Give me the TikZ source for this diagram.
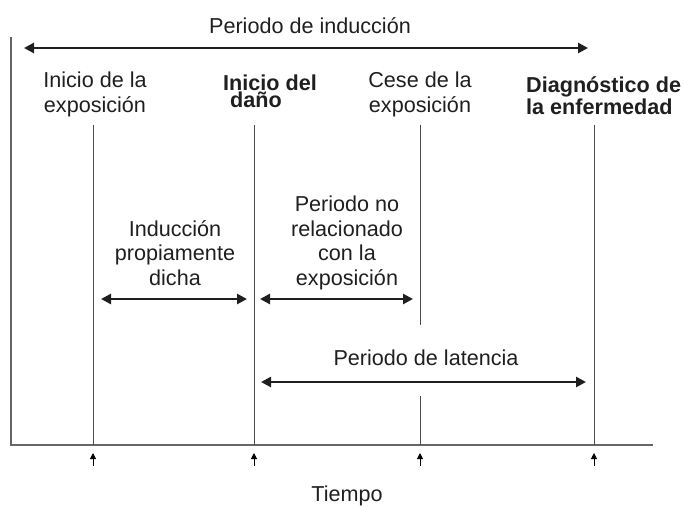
\documentclass[tikz,border=0pt]{standalone}
\usepackage{fontspec}
\setmainfont{Liberation Sans}
\usetikzlibrary{arrows.meta}
\begin{document}
\begin{tikzpicture}[x=1pt,y=-1pt,
  lbl/.style={font=\fontsize{21.6}{24.5}\selectfont, align=center, inner sep=0pt, text=black!88, anchor=base},
  blbl/.style={font=\fontsize{21.6}{17}\selectfont\bfseries, align=left, inner sep=0pt, text=black!88, anchor=base west},
  span/.style={line width=2.8pt, {Triangle[length=10pt,width=10pt]}-{Triangle[length=10pt,width=10pt]}, black!88},
  vline/.style={line width=0.9pt, black!70},
  axis/.style={line width=1.3pt, black!60},
  tick/.style={line width=0.8pt, black, -{Triangle[length=6pt,width=6pt]}}]
\useasboundingbox (0,0) rectangle (684,506);
% axes
\coordinate (o) at (11,445);
\coordinate (ytop) at (11,37);
\coordinate (xend) at (653,445);
\draw[axis] (ytop) -- (o) -- (xend);
% event lines
\coordinate (a1) at (93,125); \coordinate (a0) at (93,445);
\coordinate (b1) at (254,125); \coordinate (b0) at (254,445);
\coordinate (c1) at (420,125); \coordinate (c2) at (420,325);
\coordinate (c3) at (420,396); \coordinate (c0) at (420,445);
\coordinate (d1) at (594,125); \coordinate (d0) at (594,445);
\draw[vline] (a1) -- (a0);
\draw[vline] (b1) -- (b0);
\draw[vline] (c1) -- (c2);
\draw[vline] (c3) -- (c0);
\draw[vline] (d1) -- (d0);
% ticks
\foreach \x/\n in {93/ta,254/tb,420/tc,594/td}{
  \coordinate (\n s) at (\x,466);
  \coordinate (\n e) at (\x,453);
  \draw[tick] (\n s) -- (\n e);
}
% labels
\node[lbl] (pind) at (310,33) {Periodo de inducción};
\coordinate (pindL) at (24,48); \coordinate (pindR) at (588,48);
\draw[span] (pindL) -- (pindR);
\node[lbl] (ini) at (95,112) {Inicio de la\\exposición};
\node[blbl] (dan) at (223,107) {Inicio del\\\hspace*{7pt}daño};
\node[lbl] (cese) at (420,112) {Cese de la\\exposición};
\node[blbl] (diag) at (526,114) {Diagnóstico de\\la enfermedad};
\node[lbl] (indp) at (175,285) {Inducción\\propiamente\\dicha};
\coordinate (i1) at (101,299); \coordinate (i2) at (247,299);
\draw[span] (i1) -- (i2);
\node[lbl] (pnr) at (347,285) {Periodo no\\relacionado\\con la\\exposición};
\coordinate (n1) at (260,299); \coordinate (n2) at (413,299);
\draw[span] (n1) -- (n2);
\node[lbl] (plat) at (426,365) {Periodo de latencia};
\coordinate (l1) at (261,382); \coordinate (l2) at (586,382);
\draw[span] (l1) -- (l2);
\node[lbl] (tiempo) at (347,501) {Tiempo};
\end{tikzpicture}
\end{document}
